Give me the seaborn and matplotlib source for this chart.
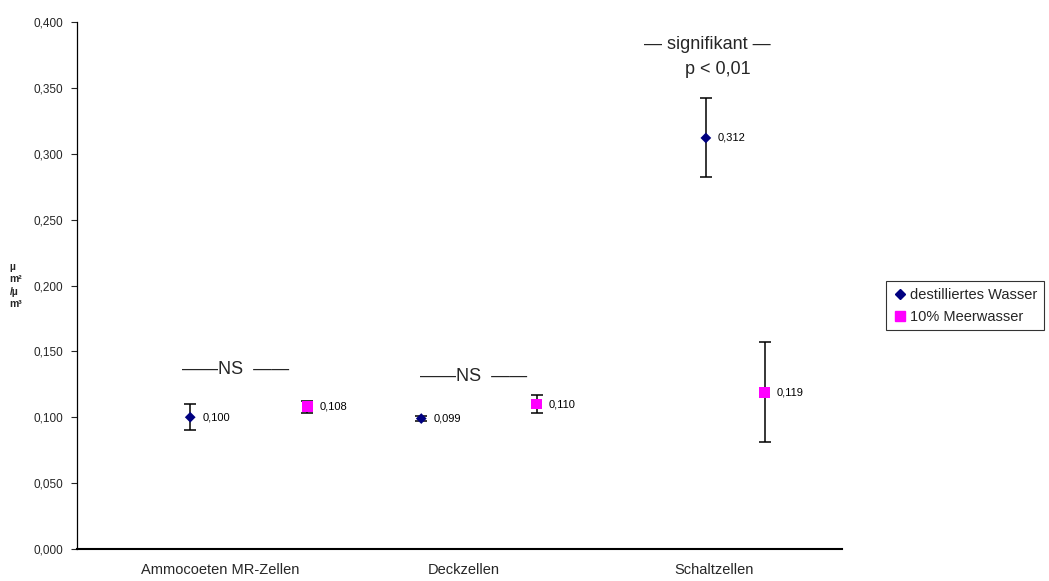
import matplotlib
matplotlib.use("Agg")
import matplotlib.pyplot as plt
import seaborn as sns
import pandas as pd
from matplotlib.ticker import FuncFormatter, MultipleLocator
from matplotlib.lines import Line2D

# ---- data ----
categories = ["Ammocoeten MR-Zellen", "Deckzellen", "Schaltzellen"]
series = ["destilliertes Wasser", "10% Meerwasser"]
x_dest = [1.48, 4.50, 8.22]
x_meer = [3.01, 6.01, 8.99]
val_dest = [0.100, 0.099, 0.312]
val_meer = [0.108, 0.110, 0.119]
err_dest = [0.010, 0.002, 0.030]
err_meer = [0.0045, 0.007, 0.038]
cat_pos = [1.87, 5.06, 8.33]

df = pd.DataFrame({
    "x": x_dest + x_meer,
    "y": val_dest + val_meer,
    "err": err_dest + err_meer,
    "Serie": [series[0]] * 3 + [series[1]] * 3,
})

sns.set_style("white")
plt.rcParams["font.family"] = ["Liberation Sans", "DejaVu Sans"]

fig = plt.figure(figsize=(10.49, 5.81), dpi=100)
ax = fig.add_axes([0.0734, 0.0551, 0.8027 - 0.0734, 0.9621 - 0.0551])

# error bars
ax.errorbar(df["x"], df["y"], yerr=df["err"], fmt="none", ecolor="black",
            elinewidth=1.1, capsize=4, capthick=1.1, zorder=2)

sns.scatterplot(data=df, x="x", y="y", hue="Serie", style="Serie", size="Serie",
                palette={series[0]: "#000080", series[1]: "#FF00FF"},
                markers={series[0]: "D", series[1]: "s"},
                sizes={series[0]: 30, series[1]: 58},
                linewidth=0, ax=ax, zorder=3, legend=False)

# value labels
for x, y in zip(df["x"], df["y"]):
    ax.text(x + 0.16, y, f"{y:.3f}".replace(".", ","), fontsize=8,
            va="center", ha="left", color="black")

ax.set_xlim(0, 10)
ax.set_ylim(0, 0.4)
ax.yaxis.set_major_locator(MultipleLocator(0.05))
ax.yaxis.set_major_formatter(FuncFormatter(lambda v, p: f"{v:.3f}".replace(".", ",")))
ax.tick_params(axis="y", labelsize=8.5, length=4, width=0.8, direction="out", left=True, pad=6)
ax.set_xticks(cat_pos)
ax.set_xticklabels(categories, fontsize=10.5)
ax.tick_params(axis="x", length=0, pad=10)
ax.set_xlabel("")
ax.set_ylabel("µ\nm²\n/µ\nm³", rotation=0, fontsize=7.5, fontweight="bold",
              ha="left", va="center", linespacing=1.3)
ax.yaxis.set_label_coords(-0.088, 0.5)

for s in ["top", "right"]:
    ax.spines[s].set_visible(False)
ax.spines["left"].set_color("black")
ax.spines["left"].set_linewidth(0.9)
ax.spines["bottom"].set_color("black")
ax.spines["bottom"].set_linewidth(1.5)

# significance annotations
ax.text(2.07, 0.1366, "——NS  ——", fontsize=13, ha="center", va="center")
ax.text(5.18, 0.1306, "——NS  ——", fontsize=13, ha="center", va="center")
ax.text(8.24, 0.3826, "— signifikant —", fontsize=13, ha="center", va="center")
ax.text(8.37, 0.3636, "p < 0,01", fontsize=13, ha="center", va="center")

# legend
handles = [Line2D([], [], marker="D", color="#000080", linestyle="none", markersize=5),
           Line2D([], [], marker="s", color="#FF00FF", linestyle="none", markersize=7.5)]
leg = fig.legend(handles, series, loc="upper left", bbox_to_anchor=(0.845, 0.516),
                 prop={"size": 10.5}, frameon=True, fancybox=False,
                 edgecolor="black", handletextpad=0.15, handlelength=1.0,
                 borderpad=0.45, labelspacing=0.55, borderaxespad=0)
leg.get_frame().set_linewidth(0.8)

fig.savefig("out.png", dpi=100)
